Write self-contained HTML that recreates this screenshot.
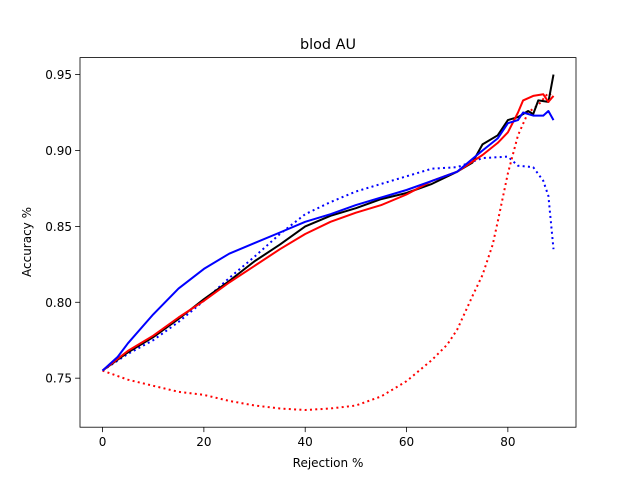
<!DOCTYPE html>
<html><head><meta charset="utf-8"><style>body{margin:0;background:#fff}svg{display:block;font-family:"DejaVu Sans","Liberation Sans",sans-serif}</style></head>
<body>
<svg id="c" width="640" height="480">
<rect width="640" height="480" fill="#fff"/>
<text x="328" y="49" font-size="14.4" text-anchor="middle">blod AU</text>
<g id="plot"></g>
<rect x="80" y="57.6" width="496" height="369.6" fill="none" stroke="#000" stroke-width="0.8"/>
<g id="axes" font-size="12"></g>
<text x="328" y="467" font-size="12" text-anchor="middle">Rejection %</text>
<text x="31" y="242" font-size="12" text-anchor="middle" transform="rotate(-90 31 242)">Accuracy %</text>
</svg>
<script>
const xTicks=[0,20,40,60,80];
const yTicks=[0.75,0.80,0.85,0.90,0.95];
const blackX=[0,5,10,15,20,25,30,35,40,45,50,55,60,65,70,73,75,78,80,82,84,85,86,88,89];
const blackY=[0.755,0.767,0.777,0.789,0.802,0.814,0.827,0.838,0.850,0.857,0.862,0.868,0.872,0.878,0.886,0.892,0.904,0.910,0.920,0.922,0.926,0.924,0.933,0.932,0.950];
const redX=[0,5,10,15,20,25,30,35,40,45,50,55,60,65,70,75,78,80,82,83,85,87,88,89];
const redY=[0.755,0.768,0.778,0.790,0.801,0.813,0.824,0.835,0.845,0.853,0.859,0.864,0.871,0.880,0.886,0.897,0.905,0.912,0.925,0.933,0.936,0.937,0.932,0.936];
const blueX=[0,3,5,10,15,20,25,30,35,40,45,50,55,60,65,70,75,78,80,82,83,85,87,88,89];
const blueY=[0.755,0.764,0.773,0.792,0.809,0.822,0.832,0.839,0.846,0.853,0.858,0.864,0.869,0.874,0.880,0.886,0.900,0.908,0.918,0.920,0.925,0.923,0.923,0.926,0.920];
const blueDotX=[0,5,10,15,20,25,30,35,40,45,50,55,60,65,70,75,80,82,85,87,88,89];
const blueDotY=[0.755,0.766,0.775,0.787,0.801,0.816,0.830,0.845,0.858,0.866,0.873,0.878,0.883,0.888,0.889,0.895,0.896,0.890,0.889,0.880,0.870,0.835];
const redDotX=[0,5,10,15,20,25,30,35,40,45,50,55,60,65,68,70,73,75,77,78,80,82,84,86,88,89];
const redDotY=[0.755,0.749,0.745,0.741,0.739,0.735,0.732,0.730,0.729,0.730,0.732,0.738,0.748,0.762,0.772,0.782,0.804,0.818,0.838,0.853,0.885,0.910,0.925,0.930,0.938,0.935];
const NS='http://www.w3.org/2000/svg';
const X0=80,X1=576,Y0=427.2,Y1=57.6,xmin=-4.45,xmax=93.45,ymin=0.7177,ymax=0.9612;
const sx=v=>X0+(v-xmin)/(xmax-xmin)*(X1-X0);
const sy=v=>Y0-(v-ymin)/(ymax-ymin)*(Y0-Y1);
const plot=document.getElementById('plot'),axes=document.getElementById('axes');
function line(xs,ys,color,dotted,name){
  const p=document.createElementNS(NS,'path');
  p.setAttribute('d',xs.map((x,i)=>(i?'L':'M')+sx(x).toFixed(1)+' '+sy(ys[i]).toFixed(1)).join(''));
  p.setAttribute('fill','none');p.setAttribute('stroke',color);p.setAttribute('stroke-width','2');
  p.setAttribute('stroke-linejoin','round');
  if(dotted)p.setAttribute('stroke-dasharray','2 3.3');
  
  
  plot.appendChild(p);
}
line(blueDotX,blueDotY,'#0000ff',true,'blue-dotted-line');
line(redDotX,redDotY,'#ff0000',true,'red-dotted-line');
line(blackX,blackY,'#000000',false,'black-line');
line(redX,redY,'#ff0000',false,'red-line');
line(blueX,blueY,'#0000ff',false,'blue-line');
xTicks.forEach(t=>{
  const x=sx(t);
  const l=document.createElementNS(NS,'line');
  l.setAttribute('x1',x);l.setAttribute('x2',x);l.setAttribute('y1',Y0);l.setAttribute('y2',Y0+4.9);l.setAttribute('stroke','#000');l.setAttribute('stroke-width','0.8');
  
  
  axes.appendChild(l);
  const tx=document.createElementNS(NS,'text');
  tx.setAttribute('x',x);tx.setAttribute('y',Y0+19);tx.setAttribute('text-anchor','middle');tx.textContent=t;
  
  
  axes.appendChild(tx);
});
yTicks.forEach(t=>{
  const y=sy(t);
  const l=document.createElementNS(NS,'line');
  l.setAttribute('x1',X0-4.9);l.setAttribute('x2',X0);l.setAttribute('y1',y);l.setAttribute('y2',y);l.setAttribute('stroke','#000');l.setAttribute('stroke-width','0.8');
  
  
  axes.appendChild(l);
  const tx=document.createElementNS(NS,'text');
  tx.setAttribute('x',X0-8);tx.setAttribute('y',y+4.5);tx.setAttribute('text-anchor','end');tx.textContent=t.toFixed(2);
  
  
  axes.appendChild(tx);
});
</script>
</body></html>
